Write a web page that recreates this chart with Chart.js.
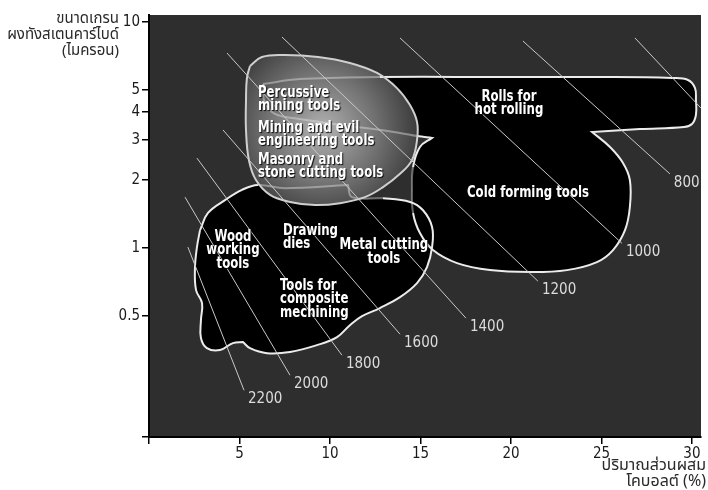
<!DOCTYPE html>
<html>
<head>
<meta charset="utf-8">
<script src="https://cdn.jsdelivr.net/npm/chart.js@4.4.1/dist/chart.umd.min.js"></script>
<style>
  html, body { margin: 0; padding: 0; background: #fff; }
  canvas { display: block; }
</style>
</head>
<body>
<canvas id="chart" width="708" height="490"></canvas>
<script>
// cobalt content (%) on x, WC grain size (micron, log) on y
const cobaltTicks = [0, 5, 10, 15, 20, 25, 30];
const grainTicks = [0.5, 1, 2, 3, 4, 5, 10];

// region outlines, [cobalt %, grain size]
const rollsColdForming = [
  [6.30, 5.32], [8.34, 5.59], [12.76, 5.71], [19.39, 5.71], [24.92, 5.71], [28.90, 5.65],
  [29.78, 5.54], [30.17, 5.10], [30.22, 4.52], [30.22, 3.88], [30.0, 3.54], [29.56, 3.43],
  [27.13, 3.36], [24.48, 3.26], [24.48, 3.26], [25.47, 2.80], [26.19, 2.38], [26.57, 2.00],
  [26.57, 1.52], [26.30, 1.20], [25.64, 0.98], [24.75, 0.867], [23.09, 0.799], [21.05, 0.783],
  [18.84, 0.799], [17.02, 0.858], [15.69, 0.98], [14.97, 1.165], [14.59, 1.43], [14.53, 1.81],
  [14.59, 2.28], [14.97, 2.80], [15.64, 3.07], [15.64, 3.07], [14.81, 3.13], [13.87, 3.23],
  [11.10, 3.47], [8.34, 3.72], [6.96, 3.92], [6.41, 4.38], [6.30, 4.90], [6.30, 5.32]
];
const woodMetalCutting = [
  [2.82, 1.20], [3.26, 1.43], [4.20, 1.63], [5.14, 1.81], [6.02, 1.90], [7.50, 1.84],
  [10.99, 1.90], [10.99, 1.90], [11.22, 1.68], [12.93, 1.66], [14.42, 1.60], [15.14, 1.47],
  [15.64, 1.24], [15.64, 1.01], [15.36, 0.824], [14.81, 0.700], [13.87, 0.607], [12.76, 0.543],
  [11.77, 0.500], [11.10, 0.456], [10.39, 0.404], [9.28, 0.372], [7.79, 0.347], [6.52, 0.343],
  [5.58, 0.361], [5.19, 0.384], [5.19, 0.384], [4.64, 0.380], [3.92, 0.354], [3.20, 0.361],
  [2.87, 0.400], [2.87, 0.480], [2.93, 0.571], [2.60, 0.652], [2.54, 0.816], [2.65, 1.01],
  [2.82, 1.20]
];
const percussiveMining = [
  [5.58, 6.39], [6.24, 7.00], [7.51, 7.14], [9.34, 7.00], [11.10, 6.59], [12.60, 5.95],
  [13.70, 5.10], [14.42, 4.29], [14.81, 3.61], [14.81, 3.01], [14.53, 2.45], [13.87, 2.13],
  [12.93, 1.86], [11.93, 1.68], [10.55, 1.58], [9.17, 1.55], [7.79, 1.60], [6.69, 1.72],
  [5.91, 2.00], [5.52, 2.45], [5.36, 3.33], [5.36, 4.52], [5.41, 5.65], [5.58, 6.39]
];

// hardness lines
const isoLabels = ['', '800', '1000', '1200', '1400', '1600', '1800', '2000', '2200'];
const isoStart = [[26.85, 8.50], [20.66, 8.24], [13.87, 8.50], [7.35, 8.58], [4.31, 7.29],
  [4.09, 3.33], [2.65, 2.50], [1.99, 1.68], [2.15, 1.01]];
const isoEnd = [[30.5, 4.16], [28.78, 2.13], [26.13, 1.05], [21.49, 0.714], [17.51, 0.490],
  [13.87, 0.416], [10.66, 0.336], [7.79, 0.274], [5.25, 0.235]];

const regionNames = [
  ['Percussive', 'mining tools'], ['Mining and evil', 'engineering tools'],
  ['Masonry and', 'stone cutting tools'], ['Rolls for', 'hot rolling'], ['Cold forming tools'],
  ['Wood', 'working', 'tools'], ['Drawing', 'dies'], ['Metal cutting', 'tools'],
  ['Tools for', 'composite', 'mechining']
];

const NARROW = "'Liberation Sans Narrow', 'DejaVu Sans Condensed', sans-serif";
const THAI = "'Noto Sans Thai', 'Noto Sans', 'DejaVu Sans', sans-serif";

const toPts = arr => arr.map(([x, y]) => ({ x, y }));

// anchors for region names: [x, y, align]
const nameSpots = [
  [6.02, 4.85, 'left'], [6.02, 3.40, 'left'], [6.02, 2.45, 'left'], [19.89, 4.66, 'center'],
  [20.94, 1.75, 'center'], [4.64, 1.12, 'center'], [7.40, 1.19, 'left'], [12.98, 1.03, 'center'],
  [7.24, 0.679, 'left']
];

const grayFill = (ctx) => {
  const chart = ctx.chart;
  if (!chart.chartArea) return 'rgba(120,120,120,0.85)';
  const cx = chart.scales.x.getPixelForValue(9.6);
  const cy = chart.scales.y.getPixelForValue(3.4);
  const g = chart.ctx.createRadialGradient(cx, cy, 5, cx, cy, 105);
  g.addColorStop(0, 'rgba(185,185,185,0.92)');
  g.addColorStop(0.5, 'rgba(125,125,125,0.88)');
  g.addColorStop(1, 'rgba(55,55,55,0.85)');
  return g;
};

// outline parts that sit under the grey region are drawn faint
const FAINT = 'rgba(225,225,225,0.45)';
const dimRight = ctx => {
  const a = ctx.p0.parsed, b = ctx.p1.parsed;
  const lim = Math.min(a.y, b.y) > 5 ? 12.8 : 14.85;
  return Math.max(a.x, b.x) <= lim ? FAINT : undefined;
};
const dimLower = ctx => {
  const a = ctx.p0.parsed, b = ctx.p1.parsed;
  return Math.min(a.x, b.x) >= 6.0 && Math.max(a.x, b.x) <= 13.0 && Math.min(a.y, b.y) > 1.6
    ? FAINT : undefined;
};

const darkPlot = {
  id: 'darkPlot',
  beforeDraw(chart) {
    const { ctx, chartArea: a } = chart;
    ctx.save();
    ctx.fillStyle = '#fff';
    ctx.fillRect(0, 0, chart.width, chart.height);
    ctx.fillStyle = '#2e2e2e';
    ctx.fillRect(a.left, a.top, a.right - a.left, a.bottom - a.top);
    ctx.restore();
  }
};

const textLayer = {
  id: 'textLayer',
  afterDatasetsDraw(chart) {
    const { ctx, scales: { x, y } } = chart;
    ctx.save();
    // hardness labels
    ctx.font = `15px ${NARROW}`;
    ctx.fillStyle = '#dcdcdc';
    ctx.textAlign = 'left';
    ctx.textBaseline = 'middle';
    isoLabels.forEach((t, i) => {
      if (!t) return;
      ctx.fillText(t, x.getPixelForValue(isoEnd[i][0]) + 4, y.getPixelForValue(isoEnd[i][1]) + 9);
    });
    // region names, squeezed a little to look condensed
    ctx.font = `bold 15px ${NARROW}`;
    ctx.fillStyle = '#fff';
    ctx.shadowColor = 'rgba(0,0,0,0.9)';
    ctx.shadowOffsetX = 1;
    ctx.shadowOffsetY = 1;
    ctx.shadowBlur = 1;
    regionNames.forEach((lines, i) => {
      const [vx, vy, align] = nameSpots[i];
      ctx.save();
      ctx.translate(x.getPixelForValue(vx), y.getPixelForValue(vy));
      ctx.scale(0.87, 1);
      ctx.textAlign = align;
      lines.forEach((s, k) => ctx.fillText(s, 0, k * 13.5));
      ctx.restore();
    });
    ctx.restore();
  },
  afterDraw(chart) {
    const ctx = chart.ctx;
    ctx.save();
    ctx.fillStyle = '#2a2a2a';
    ctx.font = `15px ${THAI}`;
    ctx.textAlign = 'right';
    ctx.textBaseline = 'middle';
    ['ขนาดเกรน', 'ผงทังสเตนคาร์ไบด์', '(ไมครอน)'].forEach((s, k) => ctx.fillText(s, 119, 20 + k * 16));
    ctx.font = `16px ${THAI}`;
    ['ปริมาณส่วนผสม', 'โคบอลต์ (%)'].forEach((s, k) => ctx.fillText(s, 706, 467 + k * 16));
    ctx.restore();
  }
};

// filled body without border, then the outline on its own
const region = (data, fillColor, order) => ({
  data: toPts(data),
  fill: 'shape',
  backgroundColor: fillColor,
  borderWidth: 0,
  borderColor: 'rgba(0,0,0,0)',
  tension: 0.4,
  pointRadius: 0,
  order
});
const edge = (data, lineColor, order, dim) => ({
  data: toPts(data),
  fill: false,
  borderColor: lineColor,
  borderWidth: 2,
  tension: 0.4,
  pointRadius: 0,
  order,
  segment: dim ? { borderColor: dim } : undefined
});

new Chart(document.getElementById('chart'), {
  type: 'line',
  data: {
    datasets: [
      ...isoLabels.map((t, i) => ({
        data: toPts([isoStart[i], isoEnd[i]]),
        borderColor: '#c9c9c9',
        borderWidth: 1,
        pointRadius: 0,
        fill: false,
        order: 0
      })),
      edge(percussiveMining, '#cfcfcf', 1),
      region(percussiveMining, grayFill, 1),
      edge(woodMetalCutting, '#ececec', 2, dimLower),
      region(woodMetalCutting, '#000', 2),
      edge(rollsColdForming, '#ececec', 3, dimRight),
      region(rollsColdForming, '#000', 3)
    ]
  },
  options: {
    responsive: false,
    animation: false,
    layout: { padding: { top: 15, right: 7, left: 0, bottom: 0 } },
    plugins: {
      legend: { display: false },
      tooltip: { enabled: false },
      filler: { drawTime: 'beforeDatasetsDraw' }
    },
    scales: {
      x: {
        type: 'linear',
        min: 0,
        max: 30.5,
        afterBuildTicks: s => { s.ticks = cobaltTicks.map(v => ({ value: v })); },
        afterFit: s => { s.height = 53; },
        ticks: {
          callback: v => (v === 0 ? '' : String(v)),
          font: { family: NARROW, size: 15 },
          color: '#1a1a1a',
          padding: 1,
          maxRotation: 0,
          autoSkip: false
        },
        grid: { drawOnChartArea: false, tickLength: 7, color: '#000', lineWidth: 1.5 },
        border: { color: '#000', width: 2 }
      },
      y: {
        type: 'logarithmic',
        min: 0.146,
        max: 10.74,
        afterBuildTicks: s => { s.ticks = [s.min, ...grainTicks].map(v => ({ value: v })); },
        afterFit: s => { s.width = 149; },
        ticks: {
          callback: v => (grainTicks.includes(v) ? String(v) : ''),
          font: { family: NARROW, size: 15 },
          color: '#1a1a1a',
          padding: 2,
          autoSkip: false
        },
        grid: { drawOnChartArea: false, tickLength: 7, color: '#000', lineWidth: 1.5 },
        border: { color: '#000', width: 2 }
      }
    }
  },
  plugins: [darkPlot, textLayer]
});
</script>
</body>
</html>
